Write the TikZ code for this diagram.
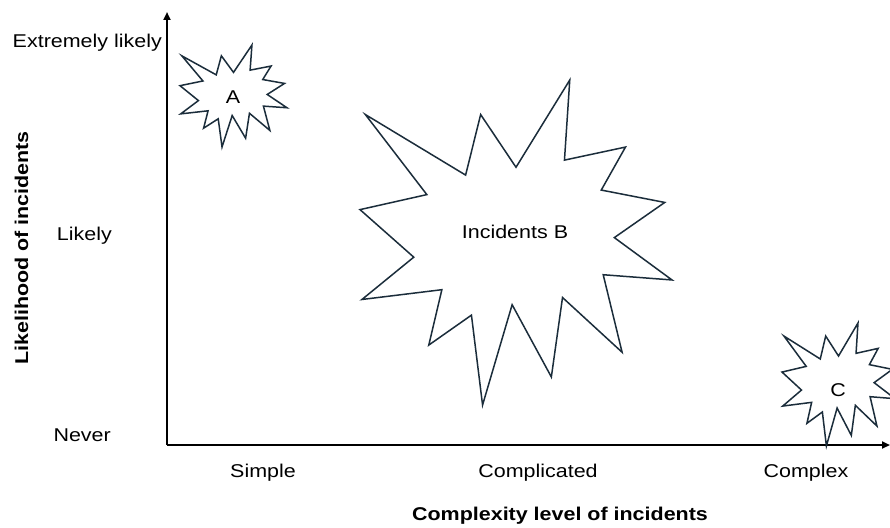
\documentclass[tikz,border=0pt]{standalone}
\usepackage{fontspec}
\setmainfont{Liberation Sans}[FakeStretch=1.16]
\usetikzlibrary{arrows.meta}

\definecolor{burstline}{HTML}{1B2D3B}

\tikzset{
  axisline/.style={line width=2pt, -{Triangle[length=8pt,width=7pt]}},
  burst/.style={draw=burstline, line width=1.5pt, fill=white, line join=miter},
  lbl/.style={font=\fontsize{18.5}{22}\selectfont, inner sep=0pt},
  axistitle/.style={font=\fontsize{18.5}{22}\selectfont\bfseries, inner sep=0pt},
}

% Explosion outline in a 216 x 216 box, placed at (#1,#2) and sized #3 x #4
\newcommand{\explosion}[4]{%
  \path[burst, shift={(#1,#2)}, xscale=#3/216, yscale=#4/216]
    (108,58) -- (145.22,0) -- (141.55,53.25) -- (183.80,44.57)
    -- (167.02,73.15) -- (210.97,81.37) -- (176.07,104.75) -- (216,132.90)
    -- (168.37,129.42) -- (181.45,180.95) -- (140.20,144.57) -- (132.47,197.37)
    -- (105.32,149.35) -- (84.85,216) -- (77.15,156.27) -- (47.62,176.17)
    -- (56.67,139.37) -- (1.35,145.87) -- (37.22,117.75) -- (0,86.15)
    -- (46.27,76.17) -- (3.70,22.95) -- (73.12,63.20) -- (83.52,22.95) -- cycle;}

\begin{document}
\begin{tikzpicture}[x=1pt, y=-1pt]
  \clip (0,0) rectangle (890,527);
  \fill[white] (0,0) rectangle (890,527);

  % axes
  \coordinate (origin) at (167,445);
  \coordinate (ytop) at (167,12);
  \coordinate (xend) at (890,445);
  \draw[axisline] (origin) -- (ytop);
  \draw[axisline] (origin) -- (xend);

  % vertical scale
  \node[lbl, anchor=base east] (extreme) at (162,48) {Extremely likely};
  \node[lbl, anchor=base east] (likely) at (112,240) {Likely};
  \node[lbl, anchor=base east] (never) at (111,441) {Never};
  \node[axistitle, anchor=base, rotate=90] (ytitle) at (28,248) {Likelihood of incidents};

  % horizontal scale
  \node[lbl, anchor=base] (simple) at (263,477) {Simple};
  \node[lbl, anchor=base] (complicated) at (538,477) {Complicated};
  \node[lbl, anchor=base] (complex) at (806,477) {Complex};
  \node[axistitle, anchor=base] (xtitle) at (560,520) {Complexity level of incidents};

  % incident groups
  \explosion{180}{45}{107}{102}
  \node[lbl, anchor=base] (incA) at (233,103) {A};
  \explosion{360}{80}{312}{325}
  \node[lbl, anchor=base] (incB) at (515,238) {Incidents B};
  \explosion{782}{323}{113}{123}
  \node[lbl, anchor=base] (incC) at (838,396) {C};
\end{tikzpicture}
\end{document}
